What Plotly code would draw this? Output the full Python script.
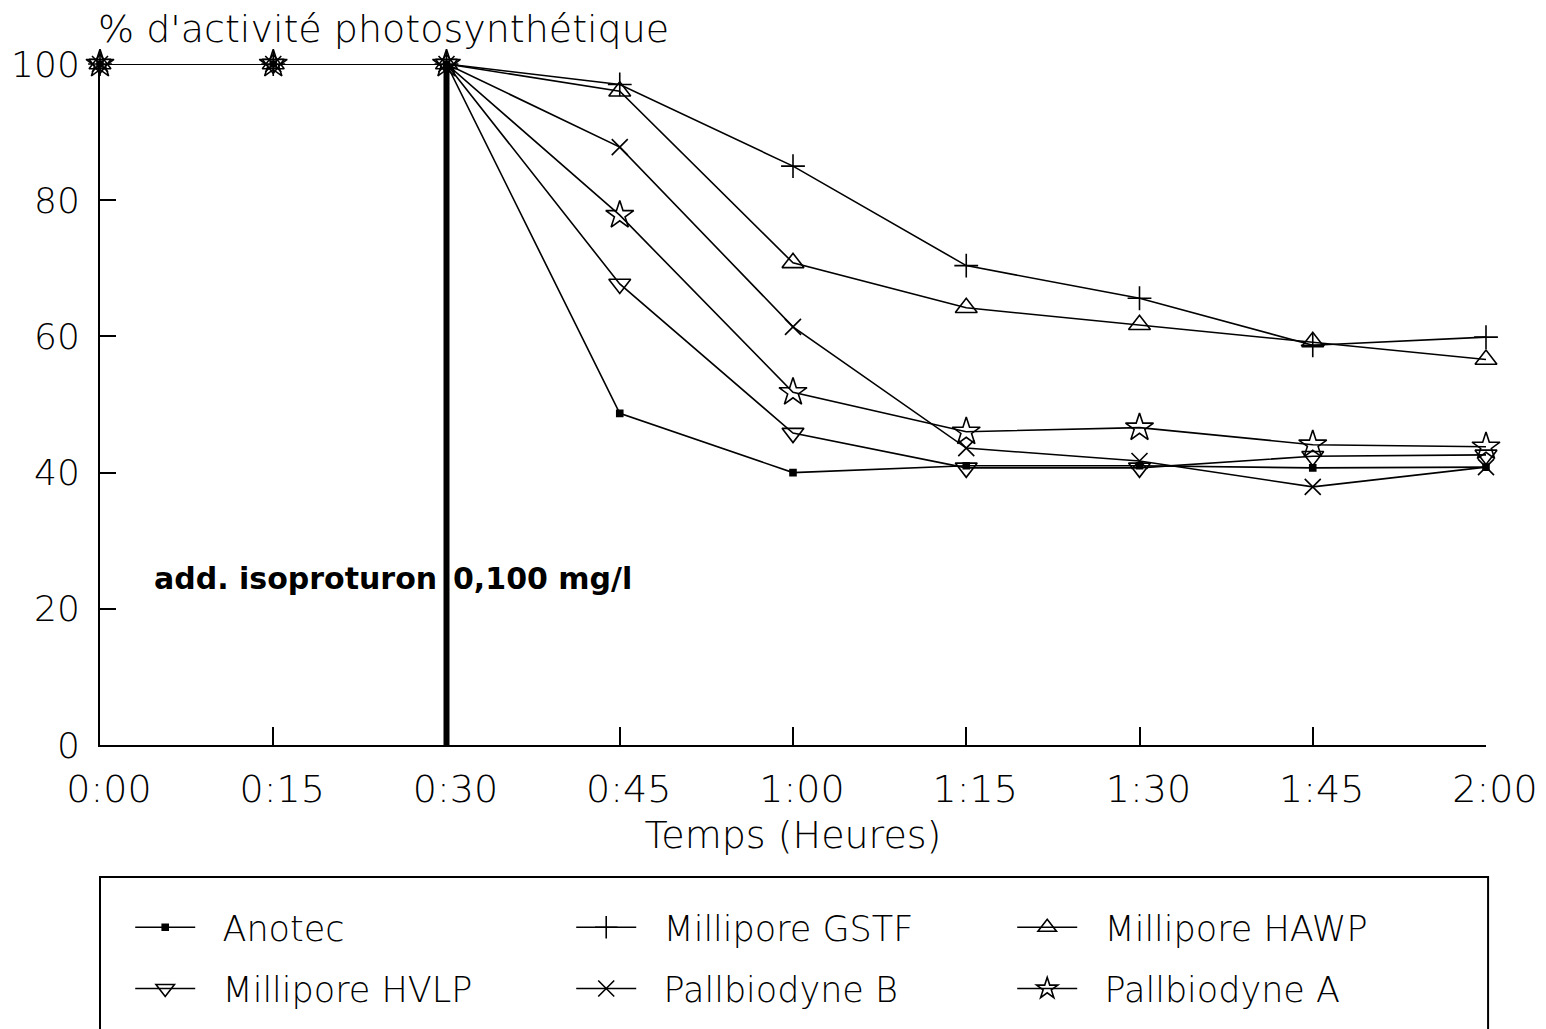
import plotly.graph_objects as go

# time in minutes
times = [0, 15, 30, 45, 60, 75, 90, 105, 120]
tick_labels = ["0:00", "0:15", "0:30", "0:45", "1:00", "1:15", "1:30", "1:45", "2:00"]

anotec = [100, 100, 100, 48.7, 40.0, 41.0, 41.0, 40.7, 40.8]
gstf = [100, 100, 100, 97.0, 85.0, 70.4, 65.6, 58.7, 59.9]
hawp = [100, 100, 100, 96.0, 70.8, 64.2, 61.7, 59.2, 56.6]
hvlp = [100, 100, 100, 67.7, 45.8, 40.7, 40.7, 42.4, 42.6]
pall_b = [100, 100, 100, 87.8, 61.4, 43.6, 41.7, 37.9, 40.8]
pall_a = [100, 100, 100, 77.8, 51.8, 46.0, 46.6, 44.1, 43.8]

series_names = ["Anotec", "Millipore GSTF", "Millipore HAWP",
                "Millipore HVLP", "Pallbiodyne B", "Pallbiodyne A"]

y_ticks = [0, 20, 40, 60, 80, 100]
addition_time = 30
annot_text_left = "add. isoproturon"
annot_text_right = "0,100 mg/l"
annot_level = 24.5

FONT = "DejaVu Sans"
LIGHT = 300

styles = [
    dict(symbol="square", size=6, legend="legend"),
    dict(symbol="cross-thin-open", size=17, legend="legend"),
    dict(symbol="triangle-up-open", size=19, legend="legend"),
    dict(symbol="triangle-down-open", size=19, legend="legend2"),
    dict(symbol="x-thin-open", size=16, legend="legend2"),
    dict(symbol="star-open", size=21, legend="legend2"),
]
data = [anotec, gstf, hawp, hvlp, pall_b, pall_a]

fig = go.Figure()
for name, vals, st in zip(series_names, data, styles):
    fig.add_trace(go.Scatter(
        x=times, y=vals, name="\u00a0\u00a0" + name, mode="lines+markers",
        line=dict(color="black", width=1.6),
        marker=dict(symbol=st["symbol"], size=st["size"], color="black",
                    line=dict(color="black", width=1.6)),
        cliponaxis=False, legend=st["legend"],
    ))

# thick vertical line marking the addition
fig.add_shape(type="line", xref="x", yref="y", x0=addition_time, x1=addition_time,
              y0=0, y1=100, line=dict(color="black", width=6))

fig.add_annotation(xref="x", yref="y", x=addition_time, y=annot_level,
                   text=annot_text_left, showarrow=False, xanchor="right",
                   xshift=-8, font=dict(family=FONT, size=30, color="black", weight="bold"))
fig.add_annotation(xref="x", yref="y", x=addition_time, y=annot_level,
                   text=annot_text_right, showarrow=False, xanchor="left",
                   xshift=4, font=dict(family=FONT, size=30, color="black", weight="bold"))

# y-axis title at top-left
fig.add_annotation(xref="paper", yref="paper", x=0, y=1.051,
                   text="% d'activité photosynthétique", showarrow=False,
                   xanchor="left", yanchor="middle", xshift=-4,
                   font=dict(family=FONT, size=38, color="black", weight=LIGHT))

# legend frame
fig.add_shape(type="rect", xref="paper", yref="paper", x0=0, x1=1.0015,
              y0=-0.4300, y1=-0.1938, line=dict(color="black", width=2))

leg_common = dict(orientation="h", xanchor="left", yanchor="middle",
                  bgcolor="rgba(0,0,0,0)", borderwidth=0,
                  font=dict(family=FONT, size=35, color="black", weight=LIGHT),
                  itemwidth=60, entrywidth=366, entrywidthmode="pixels",
                  traceorder="normal", itemsizing="trace")

fig.update_layout(
    width=1546, height=1029,
    margin=dict(l=92, r=68, t=56, b=292, autoexpand=False),
    paper_bgcolor="white", plot_bgcolor="white",
    font=dict(family=FONT, color="black"),
    showlegend=True,
    legend=dict(x=0.0218, y=-0.268, **leg_common),
    legend2=dict(x=0.0218, y=-0.358, **leg_common),
    xaxis=dict(range=[0, 120], tickvals=times, ticktext=tick_labels,
               ticks="inside", ticklen=18, tickwidth=1.6, tickcolor="black",
               showline=True, linecolor="black", linewidth=2,
               showgrid=False, zeroline=False, automargin=False,
               tickfont=dict(family=FONT, size=38, color="black", weight=LIGHT),
               ticklabelstandoff=9, ticklabelshift=9,
               title=dict(text="Temps (Heures)", standoff=12,
                          font=dict(family=FONT, size=38, color="black", weight=LIGHT))),
    yaxis=dict(range=[0, 100], tickvals=y_ticks,
               ticks="inside", ticklen=16, tickwidth=1.6, tickcolor="black",
               showline=True, linecolor="black", linewidth=2,
               showgrid=False, zeroline=False, automargin=False,
               tickfont=dict(family=FONT, size=36, color="black", weight=LIGHT),
               ticklabelstandoff=11),
    hovermode=False,
)

fig.write_html("out.html")
